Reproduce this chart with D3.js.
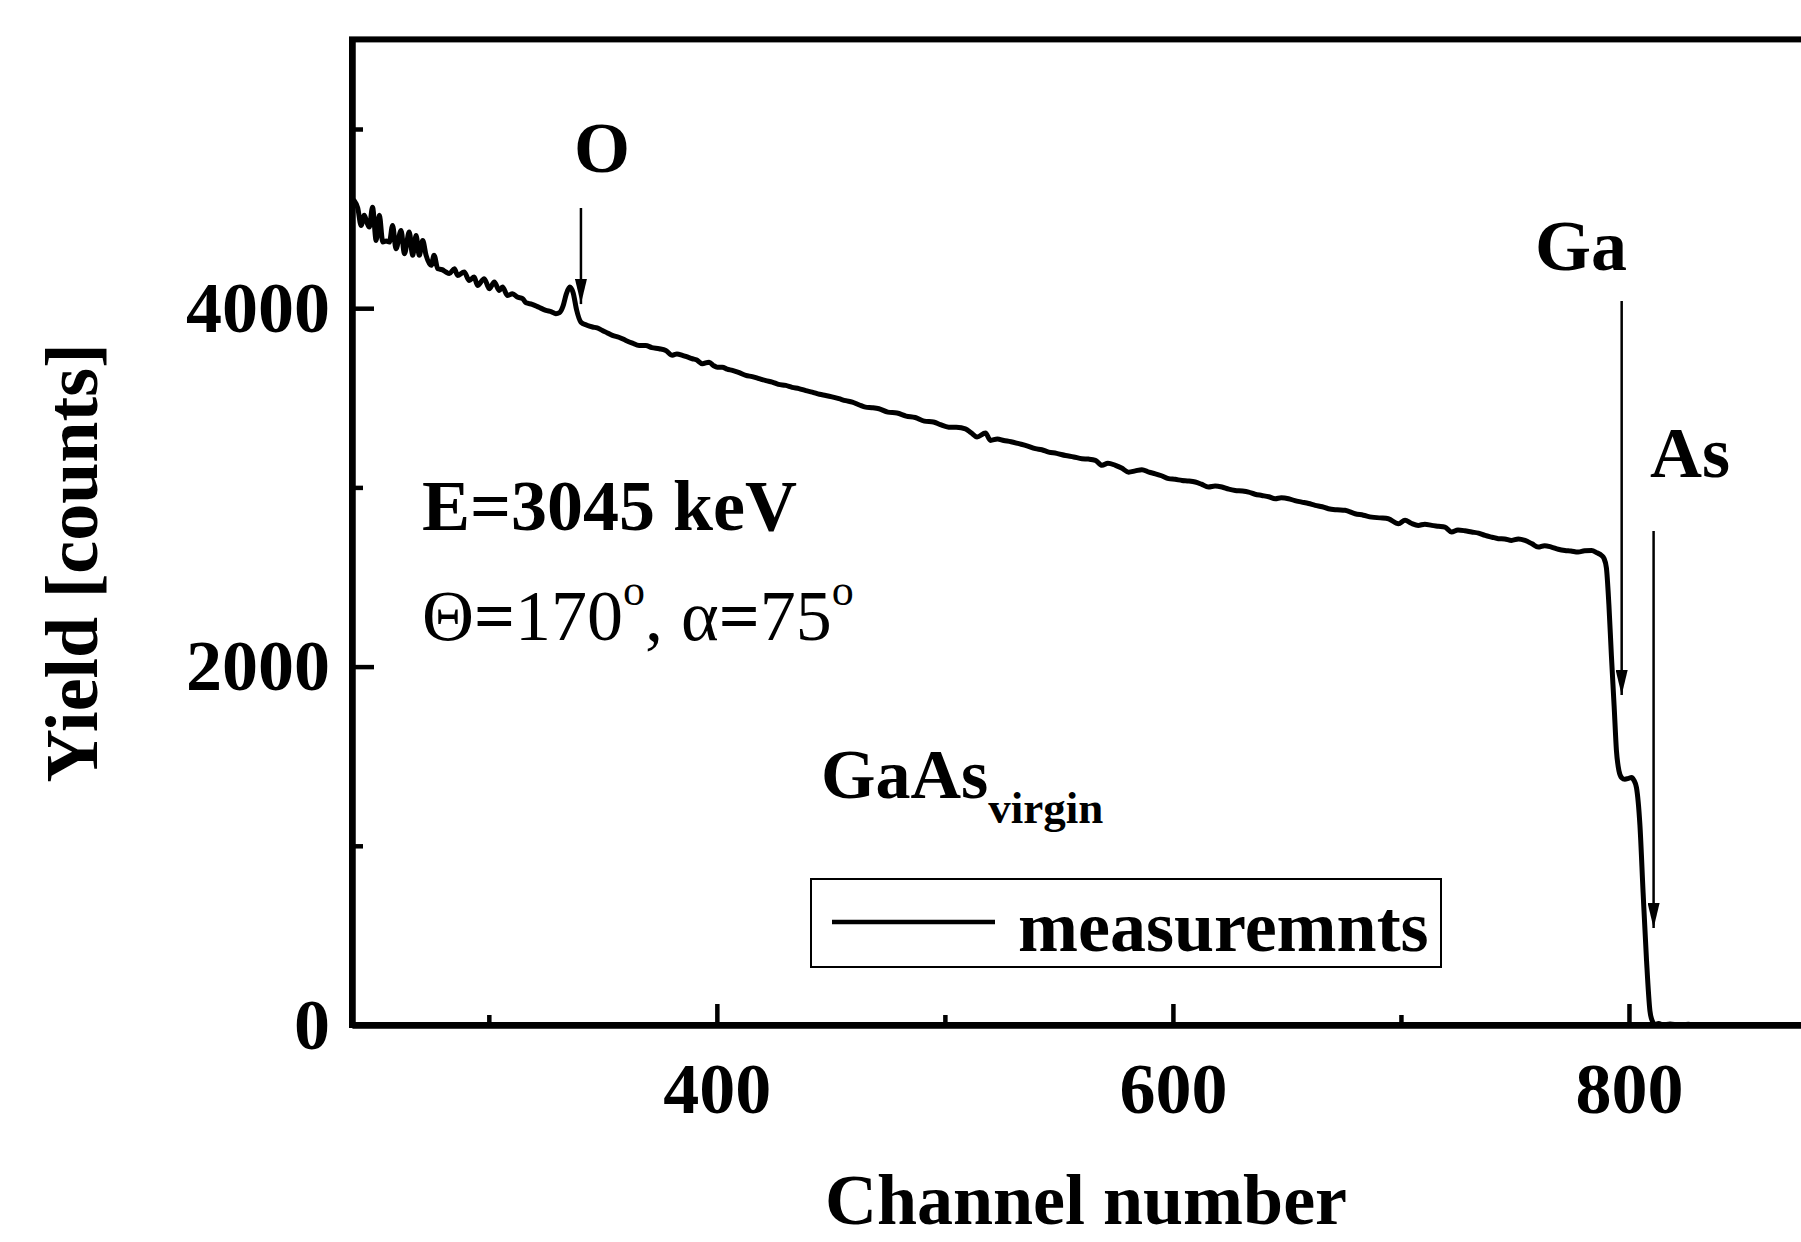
<!DOCTYPE html>
<html>
<head>
<meta charset="utf-8">
<script src="https://cdn.jsdelivr.net/npm/d3@7"></script>
<style>
  html, body { margin: 0; padding: 0; background: #fff; }
  svg text { font-family: "Liberation Serif", "Times New Roman", serif; fill: #000; }
</style>
</head>
<body>
<div id="chart"></div>
<script>
// spectrum: channel number and yield (counts)
const channels = [
  240, 241, 242.5, 244, 245.4, 246.5, 247.6, 249, 250.6, 252, 253.5, 255, 256.4, 257.8, 259.3,
  261.5, 263, 265.1, 266.6, 268.1, 269.5, 271, 272.5, 274.7, 276, 277.6, 279.5, 281.2, 282.7,
  284.9, 286.3, 289.2, 291.4, 293.6, 295, 298, 300.2, 302.4, 304.6, 306, 308.2, 310.4, 312.5,
  314.8, 316.3, 319, 322, 325, 327.5, 329.4, 331, 332.5, 334, 335.5, 337, 338.5, 340.4, 343,
  345.5, 347.5, 349.8, 352, 354.2, 357, 360.1, 363, 365.9, 368.8, 371.5, 374.7, 377.6, 380.5,
  382.5, 384.9, 387, 389.3, 391, 393.6, 396.6, 398.5, 400.2, 402.4, 404.5, 406.8, 409.5, 412.7,
  415.5, 418.5, 421.5, 424.3, 427, 430.2, 433, 436, 439, 441.8, 445, 447.7, 450.5, 453.5, 456.5,
  459.4, 462.5, 465.2, 468, 471.1, 475, 479, 483, 487, 491, 495, 498, 501.7, 505, 509, 511.5,
  514.1, 517.8, 520, 523, 525.8, 529, 532.4, 536, 539.7, 542.5, 545.5, 549, 552.9, 556.5, 560.1,
  563, 566, 568.9, 571.5, 574.8, 577.5, 580.6, 583.5, 586.4, 589.5, 592.3, 595, 598.1, 601, 604,
  607, 609.8, 612.5, 615.6, 618.5, 621.5, 624.5, 627.3, 630.5, 633.2, 636, 639, 642, 644.9,
  647.5, 650.7, 653.5, 656.5, 659.5, 662.4, 665.5, 668.2, 672, 675.5, 679.9, 683.5, 687.2, 691,
  694.5, 698.9, 701.8, 704.5, 707.6, 710.5, 713.5, 716.5, 719.3, 722.2, 725, 728, 731, 734,
  736.9, 740, 742.7, 745.5, 748.5, 751.5, 754.4, 757.5, 760.2, 763, 766, 769, 771.9, 774.5,
  777.7, 780.5, 783.6, 786, 788, 789, 790.1, 791.2, 792.3, 793.5, 794.5, 795.6, 796.8, 798.2,
  799.8, 801.1, 802.2, 803.3, 804.8, 806.2, 807.7, 809.2, 810.3, 811.3, 813, 815, 818, 822, 826,
  830, 840, 850, 860, 875, 900
];
const counts = [
  4610, 4600, 4560, 4462, 4518, 4480, 4453, 4564, 4378, 4518, 4369, 4375, 4369, 4462, 4332,
  4434, 4304, 4425, 4295, 4406, 4295, 4378, 4295, 4239, 4295, 4220, 4215, 4202, 4193,
  4220, 4183, 4202, 4155, 4174, 4127, 4165, 4109, 4146, 4099, 4118, 4071, 4081, 4062,
  4053, 4030, 4022, 4005, 3988, 3980, 3969, 3975, 4010, 4080, 4118, 4085, 3990, 3922, 3905,
  3895, 3890, 3876, 3862, 3848, 3838, 3820, 3805, 3792, 3792, 3780, 3774, 3764, 3737,
  3745, 3737, 3728, 3718, 3712, 3690, 3699, 3680, 3671, 3671, 3660, 3653, 3642, 3625,
  3618, 3607, 3596, 3588, 3575, 3569, 3558, 3551, 3540, 3532, 3520, 3513, 3505, 3495, 3484,
  3476, 3460, 3448, 3445, 3439, 3420, 3415, 3398, 3390, 3370, 3365, 3350, 3336, 3335, 3327, 3305,
  3281, 3303, 3262, 3270, 3262, 3255, 3244, 3232, 3216, 3210, 3197, 3190, 3178, 3170, 3160,
  3158, 3151, 3123, 3135, 3123, 3108, 3085, 3092, 3099, 3085, 3076, 3065, 3049, 3045, 3039,
  3036, 3030, 3018, 3002, 3008, 3002, 2990, 2983, 2980, 2974, 2962, 2955, 2948, 2937,
  2942, 2937, 2926, 2918, 2910, 2900, 2892, 2881, 2875, 2872, 2853, 2845, 2834, 2830,
  2825, 2797, 2816, 2800, 2788, 2795, 2788, 2783, 2778, 2751, 2762, 2758, 2751, 2745,
  2732, 2722, 2714, 2712, 2704, 2712, 2704, 2685, 2667, 2675, 2667, 2655, 2648, 2645,
  2639, 2646, 2648, 2635, 2620, 2605, 2551, 2344, 2060, 1778, 1532, 1419, 1380, 1371,
  1376, 1381, 1365, 1324, 1116, 739, 361, 78, 20, 2, 8, 0, 6, 0, 4,
  0, 3, 0, 2, 0, 0
];

const yMajorTicks = [0, 2000, 4000];
const yMinorTicks = [1000, 3000, 5000];
const xMajorTicks = [400, 600, 800];
const xMinorTicks = [300, 500, 700];

const W = 1801, H = 1242;
const FONT = 72;

const svg = d3.select("#chart").append("svg")
  .attr("width", W)
  .attr("height", H);

// scales (right end of the frame lies outside the picture)
const x = d3.scaleLinear().domain([240, 900]).range([352, 1857]);
const y = d3.scaleLinear().domain([0, 5500]).range([1025, 39.4]);

// frame
svg.append("rect")
  .attr("x", x(240)).attr("y", y(5500))
  .attr("width", x(900) - x(240)).attr("height", y(0) - y(5500))
  .attr("fill", "none").attr("stroke", "#000").attr("stroke-width", 6);

// Y axis
svg.append("g")
  .attr("transform", `translate(${x(240)},0)`)
  .call(d3.axisLeft(y).tickValues(yMajorTicks).tickFormat(d3.format("d"))
    .tickSizeInner(-22).tickSizeOuter(0).tickPadding(22));
svg.append("g")
  .attr("transform", `translate(${x(240)},0)`)
  .call(d3.axisLeft(y).tickValues(yMinorTicks).tickSizeInner(-11).tickSizeOuter(0).tickFormat(""));

// X axis
svg.append("g")
  .attr("transform", `translate(0,${y(0)})`)
  .call(d3.axisBottom(x).tickValues(xMajorTicks).tickFormat(d3.format("d"))
    .tickSizeInner(-21).tickSizeOuter(0).tickPadding(37));
svg.append("g")
  .attr("transform", `translate(0,${y(0)})`)
  .call(d3.axisBottom(x).tickValues(xMinorTicks).tickSizeInner(-10).tickSizeOuter(0).tickFormat(""));

svg.selectAll(".domain").attr("stroke-width", 6);
svg.selectAll(".tick line").attr("stroke-width", 4.5);
svg.selectAll(".tick text")
  .attr("font-size", FONT)
  .attr("font-weight", "bold")
  .attr("font-family", "Liberation Serif, Times New Roman, serif");

// axis titles
svg.append("text")
  .attr("x", 1086).attr("y", 1224)
  .attr("text-anchor", "middle")
  .attr("font-size", FONT).attr("font-weight", "bold")
  .text("Channel number");

svg.append("text")
  .attr("transform", "translate(97,563) rotate(-90)")
  .attr("text-anchor", "middle")
  .attr("font-size", 74).attr("font-weight", "bold")
  .text("Yield [counts]");

// measured spectrum
const line = d3.line()
  .x((d, i) => x(channels[i]))
  .y(d => y(d))
  .curve(d3.curveMonotoneX);

svg.append("path")
  .datum(counts)
  .attr("d", line)
  .attr("fill", "none")
  .attr("stroke", "#000")
  .attr("stroke-width", 5)
  .attr("stroke-linejoin", "round");

// arrows marking surface edges
svg.append("defs").append("marker")
  .attr("id", "head")
  .attr("viewBox", "0 0 25 12")
  .attr("refX", 25).attr("refY", 6)
  .attr("markerWidth", 25).attr("markerHeight", 12)
  .attr("markerUnits", "userSpaceOnUse")
  .attr("orient", "auto")
  .append("path")
  .attr("d", "M0,0 L25,6 L0,12 Z")
  .attr("fill", "#000");

const arrows = [
  { ch: 340.4, from: 4559, to: 4023 },
  { ch: 796.8, from: 4040, to: 1841 },
  { ch: 810.8, from: 2757, to: 541 }
];
svg.selectAll(".arrow")
  .data(arrows)
  .enter()
  .append("line")
  .attr("class", "arrow")
  .attr("x1", d => x(d.ch)).attr("x2", d => x(d.ch))
  .attr("y1", d => y(d.from)).attr("y2", d => y(d.to))
  .attr("stroke", "#000")
  .attr("stroke-width", 2.5)
  .attr("marker-end", "url(#head)");

// element labels
const labels = [
  { text: "O", ch: 349.6, val: 4760 },
  { text: "Ga", ch: 779, val: 4213 },
  { text: "As", ch: 826.8, val: 3060 }
];
svg.selectAll(".elem")
  .data(labels)
  .enter()
  .append("text")
  .attr("class", "elem")
  .attr("x", d => x(d.ch)).attr("y", d => y(d.val))
  .attr("text-anchor", "middle")
  .attr("font-size", FONT).attr("font-weight", "bold")
  .text(d => d.text);

// experiment conditions
svg.append("text")
  .attr("x", 422).attr("y", 530)
  .attr("font-size", FONT).attr("font-weight", "bold")
  .text("E=3045 keV");

const cond = svg.append("text")
  .attr("x", 422).attr("y", 640)
  .attr("font-size", FONT);
cond.append("tspan").text("Θ");
cond.append("tspan").attr("font-weight", "bold").text("=");
cond.append("tspan").text("170");
cond.append("tspan").attr("font-size", 44).attr("dy", -35).text("o");
cond.append("tspan").attr("dy", 35).text(", α");
cond.append("tspan").attr("font-weight", "bold").text("=");
cond.append("tspan").text("75");
cond.append("tspan").attr("font-size", 44).attr("dy", -35).text("o");

const sample = svg.append("text")
  .attr("x", 821).attr("y", 798)
  .attr("font-size", 70).attr("font-weight", "bold");
sample.append("tspan").text("GaAs");
sample.append("tspan").attr("font-size", 45).attr("dy", 25).text("virgin");

// legend
const legend = svg.append("g");
legend.append("rect")
  .attr("x", 811).attr("y", 879)
  .attr("width", 630).attr("height", 88)
  .attr("fill", "#fff").attr("stroke", "#000").attr("stroke-width", 2);
legend.append("line")
  .attr("x1", 832).attr("x2", 995)
  .attr("y1", 922).attr("y2", 922)
  .attr("stroke", "#000").attr("stroke-width", 4.5);
legend.append("text")
  .attr("x", 1018).attr("y", 951)
  .attr("font-size", FONT).attr("font-weight", "bold")
  .text("measuremnts");
</script>
</body>
</html>
